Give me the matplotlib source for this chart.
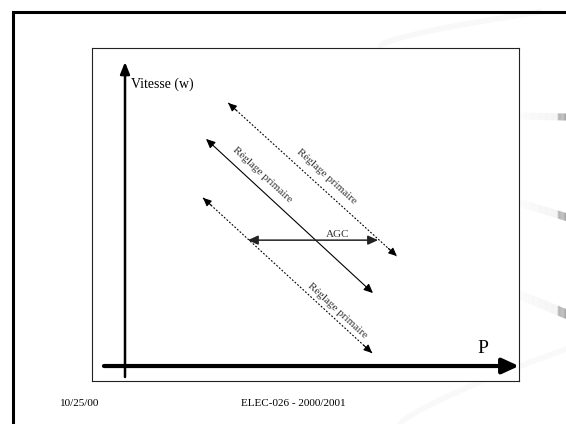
import numpy as np
import matplotlib.pyplot as plt

plt.rcParams['font.family'] = ['Liberation Serif', 'DejaVu Serif']

# droites de réglage primaire (P, w) dans le repère du schéma (0-100)
droop_names = ['haut', 'nominal', 'bas']
droop_p0 = [31.9, 26.7, 26.0]
droop_w0 = [83.5, 72.7, 55.0]
droop_p1 = [71.4, 65.8, 65.6]
droop_w1 = [37.5, 26.4, 8.4]
droop_label = ['Réglage primaire', 'Réglage primaire', 'Réglage primaire']

# déplacement AGC
agc_p = [36.5, 67.0]
agc_w = 42.3

axis_labels = ['Vitesse (w)', 'P']
footer = ['10/25/00', 'ELEC-026 - 2000/2001']

W, H = 566, 424
fig = plt.figure(figsize=(W / 100, H / 100), dpi=100)
fig.patch.set_facecolor('white')

# fond de la diapo, en pixels
bg = fig.add_axes([0, 0, 1, 1])
bg.set_xlim(0, W)
bg.set_ylim(H, 0)
bg.axis('off')

# faint decorative swooshes
t = np.linspace(0, 1, 50)
bg.plot(380 + 160 * t, 46 - 34 * t ** 0.7, color='#f8f8f8', lw=4, solid_capstyle='round')
bg.plot(400 + 166 * t, 424 - 75 * t ** 0.8, color='#f9f9f9', lw=4, solid_capstyle='round')

# gray bars on the right edge
for (y0, y1, th) in [(116, 117, 7), (203, 217, 8), (295, 314, 10)]:
    xs = np.linspace(520, W, 40)
    for i in range(len(xs) - 1):
        f = (xs[i] - 520) / (W - 520)
        g = 0.985 - 0.04 * f if xs[i] < 557 else 0.74 - 0.1 * (xs[i] - 557) / 9
        ya = y0 + (y1 - y0) * f
        yb = y0 + (y1 - y0) * (xs[i + 1] - 520) / (W - 520)
        bg.fill([xs[i], xs[i + 1], xs[i + 1], xs[i]],
                [ya - th / 2, yb - th / 2, yb + th / 2, ya + th / 2],
                color=str(g), lw=0)

# slide border
bg.plot([13, 13, W + 2], [H + 2, 12, 12], color='black', lw=2.2, solid_joinstyle='miter')

bg.text(80, 403, footer[0], fontsize=8, ha='center', va='center')
bg.text(293.5, 403, footer[1], fontsize=8, ha='center', va='center')

# cadre du schéma
ax = fig.add_axes([92 / W, 1 - 381 / H, 427 / W, 333 / H])
ax.set_xlim(0, 100)
ax.set_ylim(0, 100)
ax.set_xticks([])
ax.set_yticks([])
for s in ax.spines.values():
    s.set_linewidth(0.8)
    s.set_color('#222222')

# axes
ax.annotate('', xy=(7.73, 95.8), xytext=(7.73, 1.2),
            arrowprops=dict(arrowstyle='-|>,head_length=0.5,head_width=0.2', lw=1.8,
                            color='black', mutation_scale=14, shrinkA=0, shrinkB=0))
ax.annotate('', xy=(100, 4.5), xytext=(2.8, 4.5),
            arrowprops=dict(arrowstyle='-|>,head_length=0.5,head_width=0.23', lw=3,
                            color='black', mutation_scale=20, shrinkA=0, shrinkB=0))
ax.text(9.1, 89.2, axis_labels[0], fontsize=10, ha='left', va='center')
ax.text(91.6, 9.9, axis_labels[1], fontsize=14, ha='center', va='center')

head = '-|>,head_length=0.55,head_width=0.25'
head2 = '<|-|>,head_length=0.55,head_width=0.25'
label_t = [0.537, 0.289, 0.764]
label_off = [12, 11.5, 7.5]
for i in range(3):
    p0, w0, p1, w1 = droop_p0[i], droop_w0[i], droop_p1[i], droop_w1[i]
    if droop_names[i] == 'nominal':
        ax.annotate('', xy=(p1, w1), xytext=(p0, w0),
                    arrowprops=dict(arrowstyle=head2, lw=0.8, color='black',
                                    mutation_scale=10, shrinkA=0, shrinkB=0))
    else:
        ax.plot([p0, p1], [w0, w1], color='black', lw=0.8, ls=(0, (1.6, 1.6)))
        for (a, b, c, d) in [(p0, w0, p1, w1), (p1, w1, p0, w0)]:
            ax.annotate('', xy=(a, b), xytext=(a + 0.05 * (c - a), b + 0.05 * (d - b)),
                        arrowprops=dict(arrowstyle=head, lw=0.8, color='black',
                                        mutation_scale=9, shrinkA=0, shrinkB=0))
    # label parallel to the line, offset up-right
    s0 = ax.transData.transform((p0, w0))
    s1 = ax.transData.transform((p1, w1))
    dx, dy = s1 - s0
    ang = np.degrees(np.arctan2(dy, dx))
    n = np.array([-dy, dx]) / np.hypot(dx, dy)
    if n[0] < 0:
        n = -n
    tt = label_t[i]
    pm = (p0 + tt * (p1 - p0), w0 + tt * (w1 - w0))
    ax.annotate(droop_label[i], xy=pm, xytext=(n[0] * label_off[i] * 0.72, n[1] * label_off[i] * 0.72),
                textcoords='offset points', rotation=ang, rotation_mode='anchor',
                ha='center', va='center', fontsize=8, color='#333333')

ax.annotate('', xy=(agc_p[1], agc_w), xytext=(agc_p[0], agc_w),
            arrowprops=dict(arrowstyle=head2, lw=1.1, color='#222222',
                            mutation_scale=11, shrinkA=0, shrinkB=0))
ax.text(57.6, agc_w + 0.4, 'AGC', fontsize=8, ha='center', va='bottom', color='#333333')

fig.savefig('out.png', dpi=100, facecolor='white')
